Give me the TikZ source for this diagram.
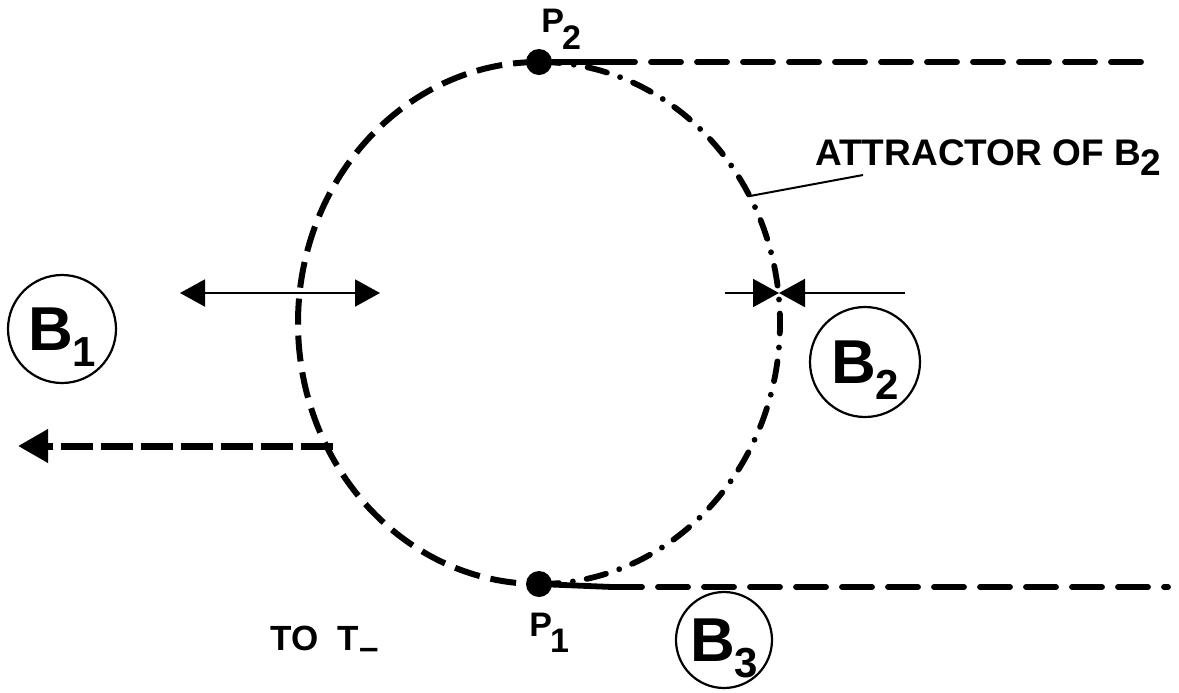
\documentclass[tikz,border=0pt]{standalone}
\usepackage{fontspec}
\setmainfont{Liberation Sans}
\usetikzlibrary{arrows.meta}
\newcommand{\bsub}[2]{#1\kern-0.5pt\raisebox{-8pt}{\fontsize{21}{23}\selectfont #2}}

\begin{document}
\begin{tikzpicture}[x=0.5pt,y=-0.5pt,
   dotp/.style={circle,fill,inner sep=0pt,minimum size=13pt},
   bub/.style={draw,circle,line width=1.1pt,inner sep=0pt,text depth=0pt,
               font=\fontsize{31}{34}\selectfont\bfseries},
   lbl/.style={inner sep=0pt,font=\fontsize{17.5}{20}\selectfont\bfseries},
   lefthalf/.style={line width=3pt,dash pattern=on 13pt off 5.5pt},
   righthalf/.style={line width=2.9pt,line cap=round,
                     dash pattern=on 10pt off 7pt on 0pt off 7pt},
   sepline/.style={line width=2.9pt,line cap=round,dash pattern=on 15pt off 8pt},
   guide/.style={line width=1pt}]
  \useasboundingbox (0,0) rectangle (1179,692);
  % the two saddle points and the closed curve through them
  \coordinate (ctr) at (539,323);
  \node[dotp] (P2) at (539,62) {};
  \node[dotp] (P1) at (539,584) {};
  \draw[lefthalf] (P2.center) arc[start angle=270,end angle=90,x radius=241,y radius=261];
  \draw[righthalf] (P1.center) arc[start angle=90,end angle=-90,x radius=241,y radius=261];
  \node[lbl,font=\fontsize{17}{19}\selectfont\bfseries,anchor=base west] (lp2) at (541,32)
       {P\kern-1pt\raisebox{-8.5pt}{2}};
  \node[lbl,font=\fontsize{17}{19}\selectfont\bfseries,anchor=base west] (lp1) at (529,636)
       {P\kern-1pt\raisebox{-8pt}{1}};
  % separatrices to the right
  \coordinate (t0) at (605,62);
  \coordinate (t1) at (1143,62);
  \coordinate (b0) at (612,587);
  \coordinate (b1) at (1168,587);
  \draw[line width=2.9pt] (P2.center) -- (t0);
  \draw[sepline] (t0) -- (t1);
  \draw[line width=2.9pt] (P1.center) -- (b0);
  \draw[sepline] (b0) -- (b1);
  % arrows across the curve
  \coordinate (la) at (180,293);
  \coordinate (lb) at (380,293);
  \draw[guide,{Triangle[length=12.5pt,width=13.5pt]}-{Triangle[length=12.5pt,width=13.5pt]}] (la) -- (lb);
  \coordinate (ra) at (725,293);
  \coordinate (rb) at (905,293);
  \coordinate (rm) at (779,293);
  \draw[guide,-{Triangle[length=13pt,width=14pt]}] (ra) -- (rm);
  \draw[guide,-{Triangle[length=13pt,width=14pt]}] (rb) -- (rm);
  \coordinate (da) at (333,446);
  \coordinate (db) at (18,446);
  \draw[line width=3.5pt,dash pattern=on 16pt off 4pt,-{Triangle[length=15pt,width=16pt]}] (da) -- (db);
  % basins
  \node[bub,minimum size=54pt] (B1) at (62,329) {\bsub{B}{1}};
  \node[bub,minimum size=55pt] (B2) at (865,362) {\bsub{B}{2}};
  \node[bub,minimum size=48pt] (B3) at (724,640) {\bsub{B}{3}};
  % labels
  \node[lbl,font=\fontsize{18.5}{21}\selectfont\bfseries,anchor=base west] (attr) at (815,165)
       {ATTRACTOR OF B\raisebox{-5pt}{2}};
  \coordinate (at0) at (750,196);
  \coordinate (at1) at (863,175);
  \draw[guide] (at0) -- (at1);
  \node[lbl,anchor=base west] (tot) at (270,650)
       {TO\ \ T\raisebox{-4.5pt}{--}};
\end{tikzpicture}
\end{document}
